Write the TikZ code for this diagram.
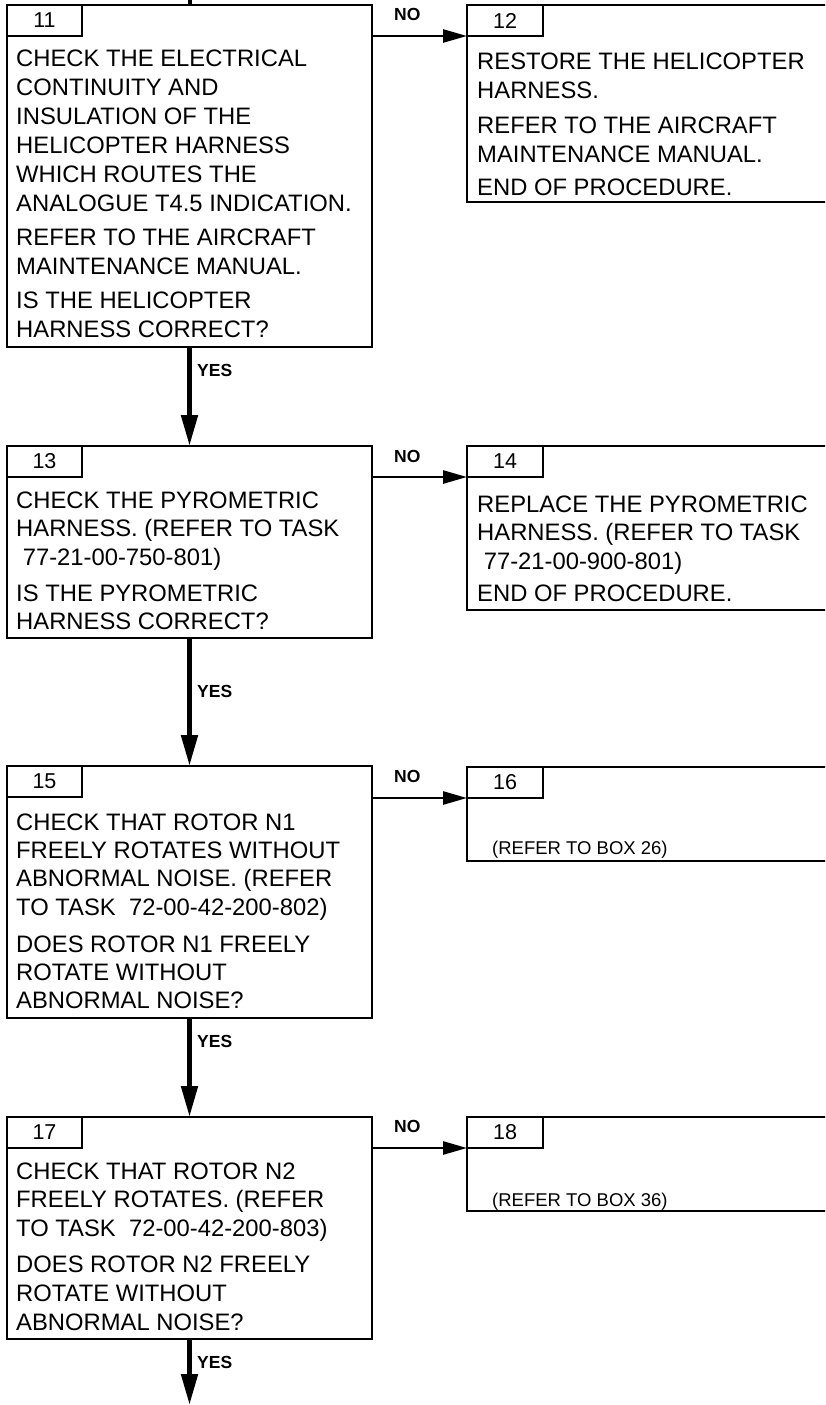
\documentclass[tikz,border=0pt]{standalone}
\usepackage{fontspec}
\setmainfont{Liberation Sans}
\usetikzlibrary{arrows.meta}
\newcommand\tline[1]{\hbox{#1}}
\newcommand\tgap[1]{\vskip #1pt}
\newcommand\btext[2][28.7]{\vtop{\fontsize{23.8}{#1}\selectfont\lineskiplimit=-100pt\lineskip=0pt #2}}
\tikzset{
 box/.style={draw, line width=2.8pt, rectangle, inner sep=0pt, outer sep=0pt, anchor=north west},
 tab/.style={draw, line width=2.8pt, rectangle, inner sep=0pt, outer sep=0pt, anchor=north west, minimum height=31pt, font=\fontsize{21.5}{21.5}\selectfont},
 txt/.style={anchor=base west, inner sep=0pt},
 small/.style={anchor=base west, inner sep=0pt, font=\fontsize{18.5}{20}\selectfont},
 lab/.style={anchor=base west, inner sep=0pt, font=\bfseries\fontsize{17.5}{18}\selectfont},
 yesarr/.style={line width=5pt, -{Triangle[length=31pt,width=16pt]}},
 noarr/.style={line width=2.7pt, -{Triangle[length=24pt,width=13pt]}},
}
\begin{document}
\begin{tikzpicture}[x=1pt,y=-1pt]
\useasboundingbox (0,0) rectangle (825,1405);
\clip (0,0) rectangle (825,1405);

% Box 11
\node[box, minimum width=365pt, minimum height=342pt] (b11) at (7,5) {};
\node[tab, minimum width=75pt] (t11) at (7,5) {11};
\node[txt] (x11) at (16,66.7) {\btext[28.9]{\tline{CHECK THE ELECTRICAL}\tline{CONTINUITY AND}\tline{INSULATION OF THE}\tline{HELICOPTER HARNESS}\tline{WHICH ROUTES THE}\tline{ANALOGUE T4.5 INDICATION.}\tgap{5}\tline{REFER TO THE AIRCRAFT}\tline{MAINTENANCE MANUAL.}\tgap{5.5}\tline{IS THE HELICOPTER}\tline{HARNESS CORRECT?}}};

% Box 12
\node[box, minimum width=400pt, minimum height=197pt] (b12) at (467,5) {};
\node[tab, minimum width=76pt] (t12) at (467,5) {12};
\node[txt] (x12) at (477,70) {\btext{\tline{RESTORE THE HELICOPTER}\tline{HARNESS.}\tgap{6}\tline{REFER TO THE AIRCRAFT}\tline{MAINTENANCE MANUAL.}\tgap{5}\tline{END OF PROCEDURE.}}};

% Box 13
\node[box, minimum width=365pt, minimum height=192pt] (b13) at (7,446) {};
\node[tab, minimum width=75pt] (t13) at (7,446) {13};
\node[txt] (x13) at (16,508) {\btext{\tline{CHECK THE PYROMETRIC}\tline{HARNESS. (REFER TO TASK}\tline{\ 77-21-00-750-801)}\tgap{7}\tline{IS THE PYROMETRIC}\tline{HARNESS CORRECT?}}};

% Box 14
\node[box, minimum width=400pt, minimum height=164pt] (b14) at (467,446) {};
\node[tab, minimum width=76pt] (t14) at (467,446) {14};
\node[txt] (x14) at (477,512) {\btext{\tline{REPLACE THE PYROMETRIC}\tline{HARNESS. (REFER TO TASK}\tline{\ 77-21-00-900-801)}\tgap{3}\tline{END OF PROCEDURE.}}};

% Box 15
\node[box, minimum width=365pt, minimum height=252pt] (b15) at (7,766) {};
\node[tab, minimum width=75pt] (t15) at (7,766) {15};
\node[txt] (x15) at (16,830) {\btext[28.4]{\tline{CHECK THAT ROTOR N1}\tline{FREELY ROTATES WITHOUT}\tline{ABNORMAL NOISE. (REFER}\tline{TO TASK\ \ 72-00-42-200-802)}\tgap{8.5}\tline{DOES ROTOR N1 FREELY}\tline{ROTATE WITHOUT}\tline{ABNORMAL NOISE?}}};

% Box 16
\node[box, minimum width=400pt, minimum height=94pt] (b16) at (467,767) {};
\node[tab, minimum width=76pt] (t16) at (467,767) {16};
\node[small] (x16) at (492,854) {(REFER TO BOX 26)};

% Box 17
\node[box, minimum width=365pt, minimum height=222pt] (b17) at (7,1117) {};
\node[tab, minimum width=75pt] (t17) at (7,1117) {17};
\node[txt] (x17) at (16,1179) {\btext[28.8]{\tline{CHECK THAT ROTOR N2}\tline{FREELY ROTATES. (REFER}\tline{TO TASK\ \ 72-00-42-200-803)}\tgap{7.5}\tline{DOES ROTOR N2 FREELY}\tline{ROTATE WITHOUT}\tline{ABNORMAL NOISE?}}};

% Box 18
\node[box, minimum width=400pt, minimum height=94pt] (b18) at (467,1117) {};
\node[tab, minimum width=76pt] (t18) at (467,1117) {18};
\node[small] (x18) at (492,1206) {(REFER TO BOX 36)};

% vertical YES connectors
\coordinate (topin) at (189.5,0);
\coordinate (out) at (189.5,1405);
\draw[line width=4pt] (topin) -- (b11.north);
\draw[yesarr] (b11.south) -- (b13.north);
\draw[yesarr] (b13.south) -- (b15.north);
\draw[yesarr] (b15.south) -- (b17.north);
\draw[yesarr] (b17.south) -- (out);

% horizontal NO connectors
\draw[noarr] (b11.east |- t12.south west) -- (t12.south west);
\draw[noarr] (b13.east |- t14.south west) -- (t14.south west);
\draw[noarr] (b15.east |- t16.south west) -- (t16.south west);
\draw[noarr] (b17.east |- t18.south west) -- (t18.south west);

% labels
\node[lab] (n11) at (394,21) {NO};
\node[lab] (n13) at (394,462) {NO};
\node[lab] (n15) at (394,782) {NO};
\node[lab] (n17) at (394,1132) {NO};
\node[lab] (y11) at (197,376) {YES};
\node[lab] (y13) at (197,697) {YES};
\node[lab] (y15) at (197,1047) {YES};
\node[lab] (y17) at (197,1368) {YES};
\end{tikzpicture}
\end{document}
